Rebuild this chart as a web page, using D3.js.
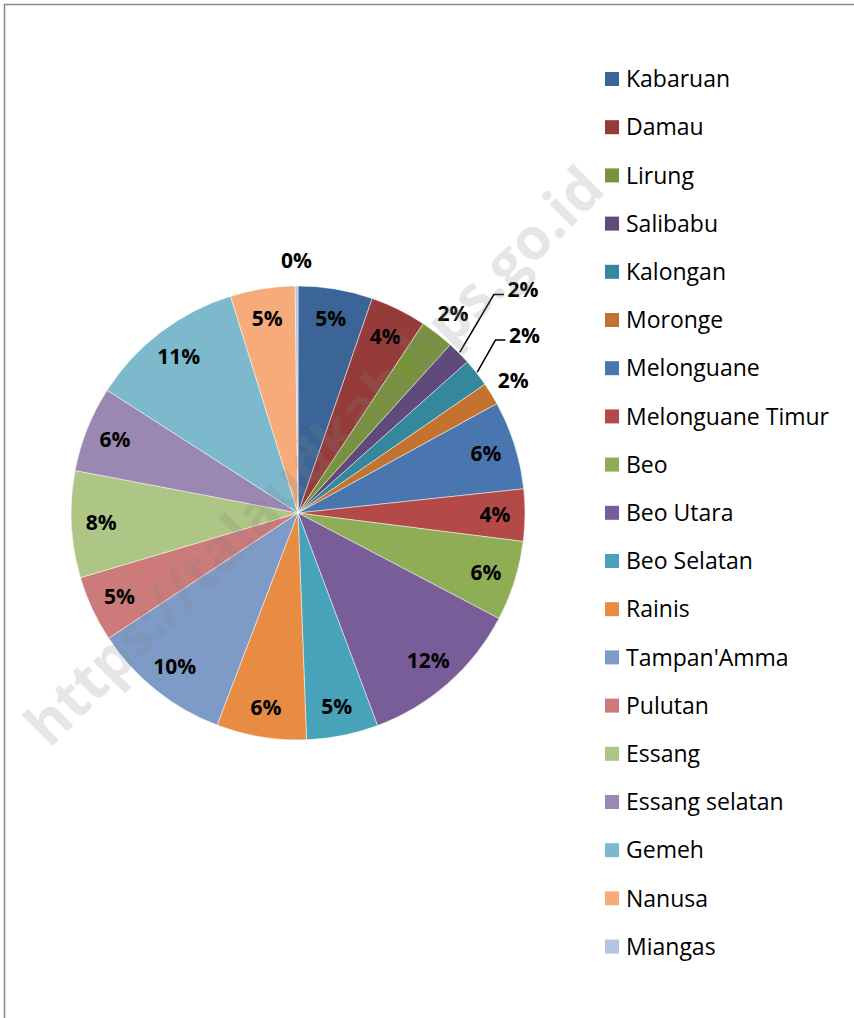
<!DOCTYPE html>
<html>
<head>
<meta charset="utf-8">
<script src="https://cdn.jsdelivr.net/npm/d3@7"></script>
<style>
  html, body { margin: 0; padding: 0; background: #fff; }
  svg { display: block; }
</style>
</head>
<body>
<div id="chartArea"><svg id="pie"></svg></div>
<script>
// kecamatan names (legend order = slice order)
const kecamatan = ['Kabaruan', 'Damau', 'Lirung', 'Salibabu', 'Kalongan', 'Moronge',
  'Melonguane', 'Melonguane Timur', 'Beo', 'Beo Utara', 'Beo Selatan', 'Rainis',
  "Tampan'Amma", 'Pulutan', 'Essang', 'Essang selatan', 'Gemeh', 'Nanusa', 'Miangas']

// share per kecamatan (%)
const persen = [5.3, 4.0, 2.4, 1.7, 2.0, 1.6, 6.3, 3.7, 5.7, 11.6, 5.1, 6.4,
  9.9, 4.7, 7.6, 6.1, 11.1, 4.6, 0.2]

const warna = ['#3b6497', '#953b39', '#77933c', '#5f4a7b', '#35879b', '#c4722f',
  '#4a76b0', '#b44a48', '#8fad54', '#795d98', '#47a2ba', '#e78c42',
  '#7e9bc8', '#cc7b7a', '#adc685', '#9b88b2', '#7db9cd', '#f7ab7a', '#b5c4df']

// labels that sit outside with a leader line (label radius)
const leader = { 'Salibabu': 317, 'Kalongan': 288 }

const width = 854, height = 1018
const cx = 298, cy = 513, r = 227

const svg = d3.select('#pie')
  .attr('width', width)
  .attr('height', height)

// chart frame
svg.append('rect')
  .attr('x', 4.5).attr('y', 4.5)
  .attr('width', width + 10).attr('height', height + 10)
  .attr('fill', 'none')
  .attr('stroke', '#8a8a8a')
  .attr('stroke-width', 1.5)

const data = kecamatan.map((k, i) => ({ item: k, value: persen[i] }))
const total = d3.sum(persen)

const piedata = d3.pie().sort(null).value(d => d.value)(data)
const arc = d3.arc().innerRadius(0).outerRadius(r)
const colors = d3.scaleOrdinal(kecamatan, warna)

const g = svg.append('g')
  .attr('transform', `translate(${cx},${cy})`)

// slices
g.append('g')
  .selectAll('path')
  .data(piedata)
  .join('path')
  .attr('d', arc)
  .attr('fill', d => colors(d.data.item))
  .attr('stroke', '#ffffff')
  .attr('stroke-opacity', 0.6)
  .attr('stroke-width', 0.8)

// watermark
svg.append('text')
  .attr('transform', 'translate(314,456) rotate(-45)')
  .attr('text-anchor', 'middle')
  .attr('dy', '0.35em')
  .style('font-family', "'Open Sans', sans-serif")
  .style('font-weight', 'bold')
  .style('font-size', '58px')
  .attr('fill', '#808080')
  .attr('fill-opacity', 0.2)
  .text('https://talaudkab.bps.go.id')

// data labels
const mid = d => (d.startAngle + d.endAngle) / 2
const pt = (a, rad) => [Math.sin(a) * rad, -Math.cos(a) * rad]

const labelPos = d => {
  const pct = d.data.value / total * 100
  let rad = 197
  if (leader[d.data.item]) rad = leader[d.data.item]
  else if (pct < 3) rad = 253
  return pt(mid(d), rad)
}

// leader lines
piedata.filter(d => leader[d.data.item]).forEach(d => {
  const [lx, ly] = labelPos(d)
  const start = pt(mid(d), r + 1)
  const hx = lx - 19, hy = ly + 5
  g.append('polyline')
    .attr('points', [start, [hx - 10, hy], [hx, hy]].map(p => p.join(',')).join(' '))
    .attr('fill', 'none')
    .attr('stroke', '#000')
    .attr('stroke-width', 1.5)
})

g.append('g')
  .selectAll('text')
  .data(piedata)
  .join('text')
  .attr('transform', d => `translate(${labelPos(d)})`)
  .attr('text-anchor', 'middle')
  .attr('dy', '0.36em')
  .style('font-family', "'Open Sans', sans-serif")
  .style('font-weight', 'bold')
  .style('font-size', '21px')
  .attr('fill', '#000')
  .text(d => Math.round(d.data.value / total * 100) + '%')

// legend
const legend = svg.append('g')
  .selectAll('g')
  .data(kecamatan)
  .join('g')
  .attr('transform', (d, i) => `translate(605,${79 + i * 48.2})`)

legend.append('rect')
  .attr('x', 0).attr('y', -7)
  .attr('width', 14).attr('height', 14)
  .attr('fill', d => colors(d))

legend.append('text')
  .attr('x', 21)
  .attr('dy', '0.36em')
  .style('font-family', "'Open Sans', sans-serif")
  .style('font-size', '23px')
  .attr('fill', '#000')
  .text(d => d)
</script>
</body>
</html>
